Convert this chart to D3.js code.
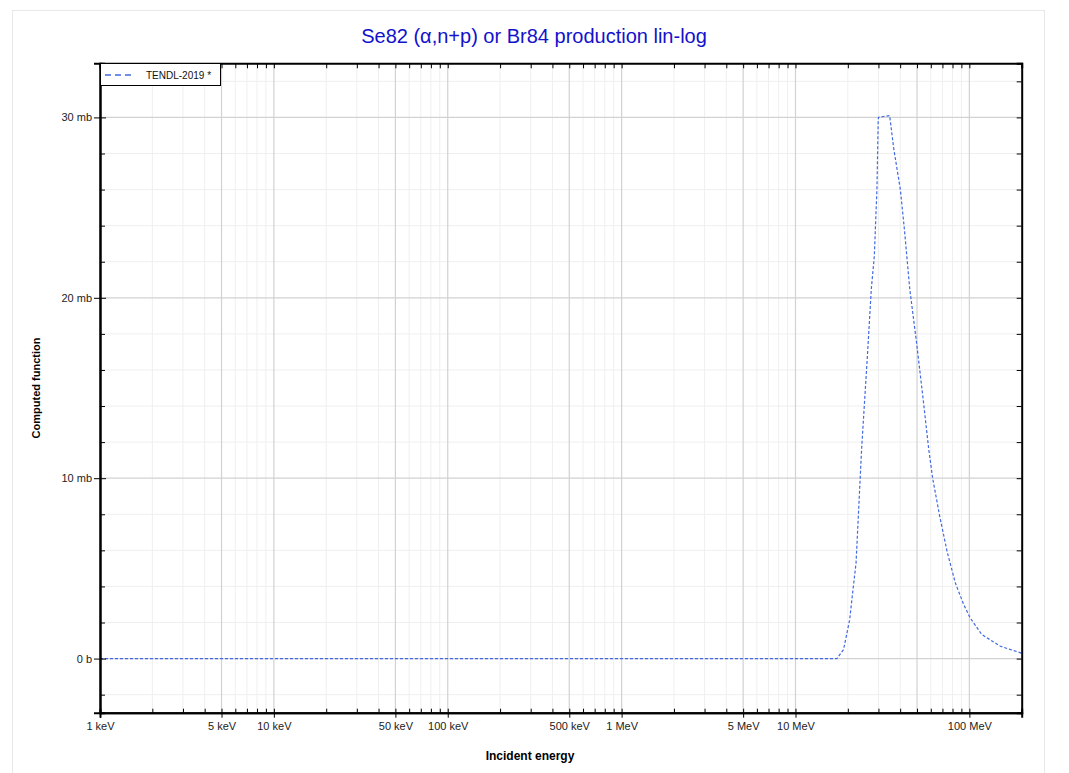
<!DOCTYPE html>
<html>
<head>
<meta charset="utf-8">
<script src="https://cdn.jsdelivr.net/npm/d3@7"></script>
<style>
  body { margin: 0; background: #fff; }
  svg text { font-family: "Liberation Sans", Arial, sans-serif; }
</style>
</head>
<body>
<div id="chart"></div>
<script>
// curve: incident energy in MeV, cross section in mb
const energy = [0.001, 1, 10, 17.3, 18.9, 20.5, 21.4, 22.3, 24, 26, 27.3, 28.4, 29.4, 29.9, 30, 32, 34.8,
  36.7, 40.1, 42.3, 45.4, 50, 54.2, 58.4, 61.5, 67.5, 74.4, 83, 92.7, 101, 118, 151, 200];
const xsec = [0, 0, 0, 0, 0.5, 2.16, 3.8, 5.3, 11.6, 17.0, 20.5, 22.3, 26.0, 29.8, 30.0, 30.05, 30.1,
  28.3, 26.0, 23.8, 20.5, 17.3, 14.4, 11.6, 10.0, 7.9, 5.95, 4.2, 3.0, 2.26, 1.33, 0.68, 0.3];

const xTickValues = [0.001, 0.005, 0.01, 0.05, 0.1, 0.5, 1, 5, 10, 100];
const xTickLabels = ['1 keV', '5 keV', '10 keV', '50 keV', '100 keV', '500 keV', '1 MeV', '5 MeV', '10 MeV', '100 MeV'];
const yTickValues = [0, 10, 20, 30];
const yTickLabels = ['0 b', '10 mb', '20 mb', '30 mb'];
const seriesName = 'TENDL-2019 *';

const width = 1069, height = 773;
const plotLeft = 100, plotRight = 1021.7, plotTop = 63.3, plotBottom = 712.7;

const svg = d3.select('#chart').append('svg')
  .attr('width', width)
  .attr('height', height);

// outer frame
svg.append('rect')
  .attr('x', 12.5).attr('y', 10.5)
  .attr('width', 1032).attr('height', 800)
  .attr('fill', 'none')
  .attr('stroke', '#e8e8e8');

const x = d3.scaleLog().domain([0.001, 200]).range([plotLeft, plotRight]);
const y = d3.scaleLinear().domain([-3, 33]).range([plotBottom, plotTop]);

// decade / minor positions for the log grid
const minorX = [];
const majorX = [];
for (let d = 0.001; d < 200; d *= 10) {
  for (let m = 1; m <= 9; m++) {
    const v = +(d * m).toPrecision(6);
    if (v > 200) break;
    if (m === 1 || m === 5) majorX.push(v); else minorX.push(v);
  }
}
const minorY = d3.range(-2, 33, 2).filter(v => v % 10 !== 0);

const grid = svg.append('g');
grid.selectAll('.gxm').data(minorX).join('line')
  .attr('x1', d => x(d)).attr('x2', d => x(d))
  .attr('y1', plotTop).attr('y2', plotBottom)
  .attr('stroke', '#efefef').attr('stroke-width', 1);
grid.selectAll('.gym').data(minorY).join('line')
  .attr('x1', plotLeft).attr('x2', plotRight)
  .attr('y1', d => y(d)).attr('y2', d => y(d))
  .attr('stroke', '#efefef').attr('stroke-width', 1);
grid.selectAll('.gxM').data(majorX).join('line')
  .attr('x1', d => x(d)).attr('x2', d => x(d))
  .attr('y1', plotTop).attr('y2', plotBottom)
  .attr('stroke', '#d2d2d2').attr('stroke-width', 1.2);
grid.selectAll('.gyM').data(yTickValues).join('line')
  .attr('x1', plotLeft).attr('x2', plotRight)
  .attr('y1', d => y(d)).attr('y2', d => y(d))
  .attr('stroke', '#d2d2d2').attr('stroke-width', 1.2);

// curve
svg.append('path')
  .datum(energy.map((e, i) => [e, xsec[i]]))
  .attr('fill', 'none')
  .attr('stroke', '#4169e1')
  .attr('stroke-width', 1.2)
  .attr('stroke-dasharray', '3,2')
  .attr('d', d3.line().x(d => x(d[0])).y(d => y(d[1])));

// axes
const fmtX = d => xTickLabels[xTickValues.indexOf(d)];
const fmtY = d => yTickLabels[yTickValues.indexOf(d)];
const allX = minorX.concat(majorX);

const axB = svg.append('g').attr('transform', `translate(0,${plotBottom})`)
  .call(d3.axisBottom(x).tickValues(xTickValues).tickFormat(fmtX).tickSizeOuter(0).tickSize(5).tickPadding(5));
const axT = svg.append('g').attr('transform', `translate(0,${plotTop})`)
  .call(d3.axisBottom(x).tickValues(allX).tickFormat('').tickSizeOuter(0).tickSize(5));
const axBm = svg.append('g').attr('transform', `translate(0,${plotBottom})`)
  .call(d3.axisTop(x).tickValues(allX).tickFormat('').tickSizeOuter(0).tickSize(4));

const axL = svg.append('g').attr('transform', `translate(${plotLeft},0)`)
  .call(d3.axisLeft(y).tickValues(yTickValues).tickFormat(fmtY).tickSizeOuter(0).tickSize(6).tickPadding(2));
axL.selectAll('.tick line').attr('x1', 6);
const axLm = svg.append('g').attr('transform', `translate(${plotLeft},0)`)
  .call(d3.axisRight(y).tickValues(minorY).tickFormat('').tickSizeOuter(0).tickSize(5));
const axR = svg.append('g').attr('transform', `translate(${plotRight},0)`)
  .call(d3.axisLeft(y).tickValues(minorY.concat(yTickValues)).tickFormat('').tickSizeOuter(0).tickSize(5));

[axB, axT, axBm, axL, axLm, axR].forEach(g => {
  g.select('.domain').attr('stroke', '#000').attr('stroke-width', 2);
  g.selectAll('.tick line').attr('stroke', '#000').attr('stroke-width', 1);
  g.selectAll('.tick text').attr('font-size', 11).attr('fill', '#222')
    .style('font-family', '"Liberation Sans", Arial, sans-serif');
});

// title and axis labels
svg.append('text')
  .attr('x', 534).attr('y', 43)
  .attr('text-anchor', 'middle')
  .attr('font-size', 20)
  .attr('fill', '#1212cc')
  .text('Se82 (\u03b1,n+p) or Br84 production lin-log');

svg.append('text')
  .attr('x', 530).attr('y', 760)
  .attr('text-anchor', 'middle')
  .attr('font-size', 12)
  .attr('font-weight', 'bold')
  .text('Incident energy');

svg.append('text')
  .attr('transform', 'translate(40,388) rotate(-90)')
  .attr('text-anchor', 'middle')
  .attr('font-size', 11)
  .attr('font-weight', 'bold')
  .text('Computed function');

// legend
const leg = svg.append('g');
leg.append('rect')
  .attr('x', 100.5).attr('y', 63.5)
  .attr('width', 120).attr('height', 22)
  .attr('fill', '#fff')
  .attr('stroke', '#000');
leg.append('line')
  .attr('x1', 105).attr('x2', 133)
  .attr('y1', 75).attr('y2', 75)
  .attr('stroke', '#4169e1')
  .attr('stroke-width', 1.5)
  .attr('stroke-dasharray', '6,4');
leg.append('text')
  .attr('x', 146).attr('y', 79)
  .attr('font-size', 10)
  .attr('fill', '#111')
  .text(seriesName);
</script>
</body>
</html>
